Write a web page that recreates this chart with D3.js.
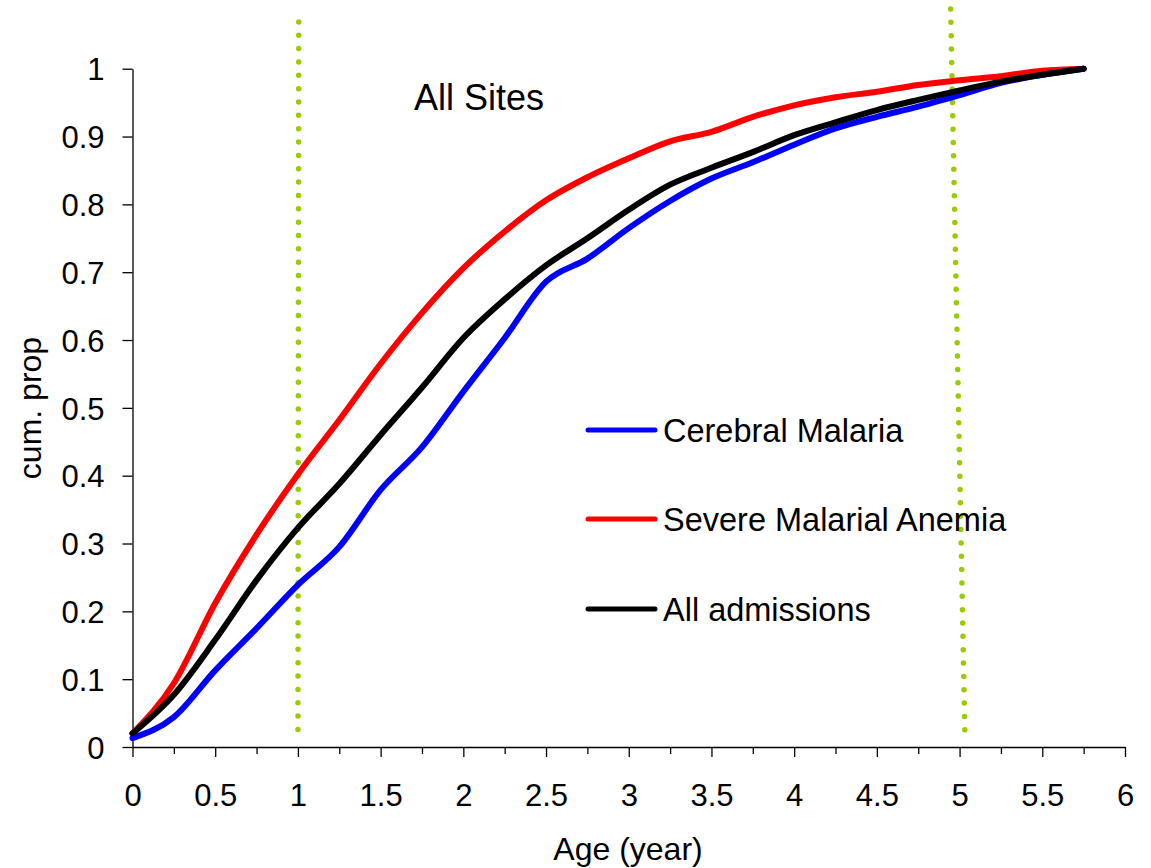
<!DOCTYPE html>
<html>
<head>
<meta charset="utf-8">
<script src="https://cdn.jsdelivr.net/npm/d3@7"></script>
<style>
  body { margin: 0; background: #fff; }
  text { font-family: "Liberation Sans", Arial, sans-serif; fill: #000; }
</style>
</head>
<body>
<div id="chart"></div>
<script>
// Chart size (matches the window)
const width = 1151;
const height = 868;

// Age points (years) shared by all series
const ages = [0, 0.25, 0.5, 0.75, 1, 1.25, 1.5, 1.75, 2, 2.25, 2.5, 2.75,
  3, 3.25, 3.5, 3.75, 4, 4.25, 4.5, 4.75, 5, 5.25, 5.5, 5.75];

// Cumulative proportions
const cerebralMalaria = [0.013, 0.044, 0.113, 0.175, 0.239, 0.295, 0.379, 0.442, 0.524, 0.603, 0.686, 0.72,
  0.765, 0.805, 0.838, 0.862, 0.888, 0.912, 0.929, 0.944, 0.961, 0.979, 0.991, 1.0];
const severeAnemia = [0.02, 0.094, 0.212, 0.313, 0.402, 0.482, 0.565, 0.64, 0.706, 0.76, 0.806, 0.84,
  0.868, 0.893, 0.907, 0.929, 0.946, 0.958, 0.966, 0.976, 0.983, 0.989, 0.997, 1.0];
const allAdmissions = [0.02, 0.077, 0.158, 0.246, 0.323, 0.388, 0.46, 0.53, 0.603, 0.66, 0.71, 0.75,
  0.792, 0.829, 0.854, 0.877, 0.902, 0.921, 0.939, 0.954, 0.968, 0.981, 0.991, 1.0];

const seriesNames = ["Cerebral Malaria", "Severe Malarial Anemia", "All admissions"];
const seriesValues = [cerebralMalaria, severeAnemia, allAdmissions];
const seriesColors = ["#0000ff", "#ff0000", "#000000"];

// Dotted reference lines (start and end points in data units)
const refLineStartX = [1.005, 4.946];
const refLineStartY = [1.069, 1.088];
const refLineEndX = [1.0, 5.033];
const refLineEndY = [0.007, 0.007];

const xTicks = d3.range(0, 6.01, 0.5);
const xMinorTicks = d3.range(0.25, 6, 0.5);
const yTicks = d3.range(0, 1.001, 0.1);

const svg = d3.select("#chart")
  .append("svg")
  .attr("width", width)
  .attr("height", height);

const x = d3.scaleLinear().domain([0, 6]).range([132.5, 1125]);
const y = d3.scaleLinear().domain([0, 1]).range([747, 68.7]);

// Minor ticks on the x axis
svg.append("g")
  .attr("transform", `translate(0,${y(0)})`)
  .call(d3.axisBottom(x).tickValues(xMinorTicks).tickSize(7).tickFormat(""))
  .call(g => g.select(".domain").remove())
  .selectAll("line").attr("stroke", "#000").attr("stroke-width", 1.3);

// X axis
const xAxis = svg.append("g")
  .attr("transform", `translate(0,${y(0)})`)
  .call(d3.axisBottom(x).tickValues(xTicks).tickSize(10).tickSizeOuter(0).tickPadding(27)
    .tickFormat(d => d3.format("~g")(d)));
xAxis.select(".domain").attr("stroke-width", 1.3);
xAxis.selectAll("line").attr("stroke-width", 1.3);
xAxis.selectAll("text").style("font-size", "31px");

// Y axis
const yAxis = svg.append("g")
  .attr("transform", `translate(${x(0)},0)`)
  .call(d3.axisLeft(y).tickValues(yTicks).tickSize(10).tickSizeOuter(0).tickPadding(18)
    .tickFormat(d => d3.format("~g")(+d.toFixed(1))));
yAxis.select(".domain").attr("stroke-width", 1.3);
yAxis.selectAll("line").attr("stroke-width", 1.3);
yAxis.selectAll("text").style("font-size", "31px").attr("dy", "0.36em");

// Green dotted reference lines
refLineStartX.forEach((sx, i) => {
  svg.append("line")
    .attr("x1", x(sx)).attr("y1", y(refLineStartY[i]))
    .attr("x2", x(refLineEndX[i])).attr("y2", y(refLineEndY[i]))
    .attr("stroke", "#99cc00")
    .attr("stroke-width", 5.5)
    .attr("stroke-linecap", "round")
    .attr("stroke-dasharray", "0 13.35");
});

// Curves
const line = d3.line()
  .x((d, i) => x(ages[i]))
  .y(d => y(d))
  .curve(d3.curveMonotoneX);

// draw red, blue then black so black sits on top
[1, 0, 2].forEach(k => {
  svg.append("path")
    .datum(seriesValues[k])
    .attr("d", line)
    .attr("fill", "none")
    .attr("stroke", seriesColors[k])
    .attr("stroke-width", 6)
    .attr("stroke-linejoin", "round")
    .attr("stroke-linecap", "round");
});

// Legend
const legendY = [430, 519, 609];
seriesNames.forEach((name, i) => {
  svg.append("line")
    .attr("x1", 588).attr("x2", 655)
    .attr("y1", legendY[i]).attr("y2", legendY[i])
    .attr("stroke", seriesColors[i])
    .attr("stroke-width", 5)
    .attr("stroke-linecap", "round");
  svg.append("text")
    .attr("x", 663)
    .attr("y", legendY[i] + 11.5)
    .style("font-size", "32.5px")
    .text(name);
});

// Title inside the plot
svg.append("text")
  .attr("x", 414)
  .attr("y", 110)
  .style("font-size", "36px")
  .text("All Sites");

// Axis titles
svg.append("text")
  .attr("x", 628)
  .attr("y", 860)
  .attr("text-anchor", "middle")
  .style("font-size", "32px")
  .text("Age (year)");

svg.append("text")
  .attr("transform", "translate(41,408) rotate(-90)")
  .attr("text-anchor", "middle")
  .style("font-size", "32px")
  .text("cum. prop");
</script>
</body>
</html>
